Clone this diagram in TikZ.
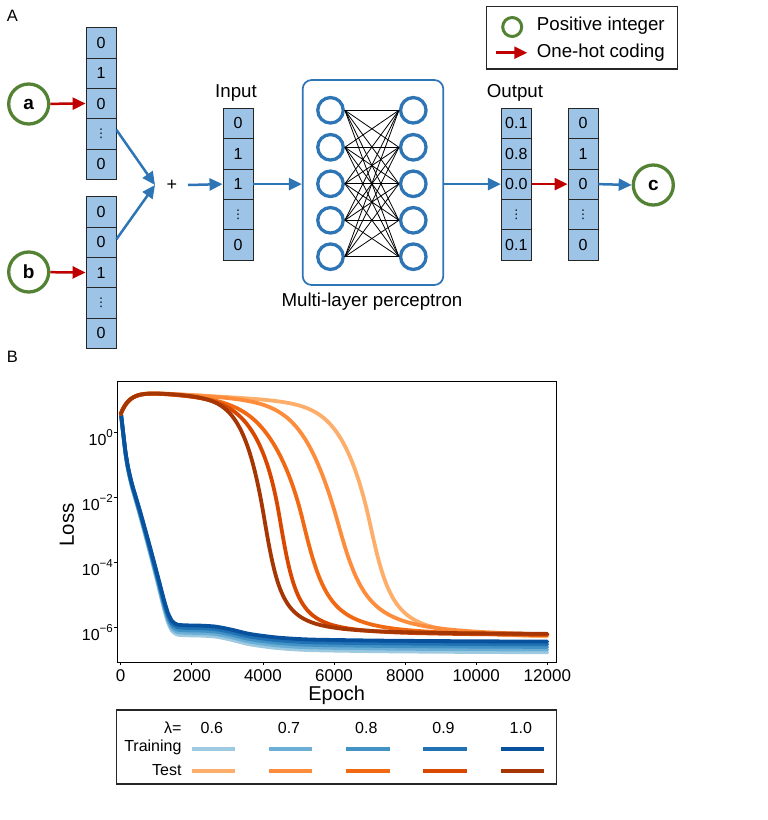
\documentclass[tikz,border=0pt]{standalone}
\usepackage{fontspec}
\setmainfont{Liberation Sans}
\newfontfamily\dejavu{DejaVu Sans}
\usetikzlibrary{arrows.meta}
\definecolor{cellblue}{HTML}{9DC3E6}
\definecolor{arrblue}{HTML}{2E75B6}
\definecolor{arrred}{HTML}{C00000}
\definecolor{ringgreen}{HTML}{548235}
\definecolor{trA}{HTML}{9ECAE1}
\definecolor{trB}{HTML}{6BAED6}
\definecolor{trC}{HTML}{4292C6}
\definecolor{trD}{HTML}{2171B5}
\definecolor{trE}{HTML}{08519C}
\definecolor{teA}{HTML}{FDAE6B}
\definecolor{teB}{HTML}{FD8D3C}
\definecolor{teC}{HTML}{F16913}
\definecolor{teD}{HTML}{D94801}
\definecolor{teE}{HTML}{A63603}
\newcommand\vd{{\dejavu\fontsize{12}{12}\selectfont ⋮}}
\newcommand\fs[1]{\fontsize{#1}{#1}\selectfont}
\tikzset{
  cell/.style={draw=black!85, line width=0.9pt, fill=cellblue, minimum width=30pt,
    minimum height=30.33pt, inner sep=0pt, font=\fs{16}},
  ring/.style={circle, draw=ringgreen, line width=3.3pt, minimum size=40pt, inner sep=0pt,
    font=\fs{19}\bfseries},
  neuron/.style={circle, draw=arrblue, line width=3.3pt, minimum size=25.5pt, inner sep=0pt},
  barrow/.style={draw=arrblue, line width=2.5pt, -{Triangle[length=13pt,width=12pt]}},
  rarrow/.style={draw=arrred, line width=2.5pt, -{Triangle[length=13pt,width=12pt]}},
  lbl/.style={font=\fs{18.7}, inner sep=0pt},
  tick/.style={font=\fs{17}, inner sep=0pt},
  leg/.style={font=\fs{16}, inner sep=0pt},
  curve/.style={line width=3.8pt, line join=round, line cap=round},
  declare function={
    ytop(\e)=391+23*exp(-min(\e/250,9))+0.002*\e;
    ash(\x)=ln(\x+sqrt(\x*\x+1));
    zlo(\d,\a,\A,\b)=min(\d,0)/\a-(\A/\b-1/\a)*250*(1-exp(max(min(\d,0)/250,-9)));
    zz(\e,\c,\a,\A,\b)=max(-9,min(9,zlo(\e-\c,\a,\A,\b)+\A*ash(max(\e-\c,0)/\b)));
    sg(\z)=1/(1+exp(-\z));
    tc(\e,\c,\a,\A,\b,\f)=ytop(\e)+(\f-ytop(\e))*sg(zz(\e,\c,\a,\A,\b));
  }
}
\begin{document}
\begin{tikzpicture}[x=1pt,y=-1pt]
\useasboundingbox (0,0) rectangle (768,820);
% ---------------- Panel A ----------------
\node[font=\fs{16.5}, inner sep=0pt] (lA) at (12.5,16) {A};
% vectors
\foreach \v [count=\i] in {0,1,0,\vd,0}
  \node[cell] (a\i) at (101,{27.7+30.33*\i-15.17}) {\v};
\foreach \v [count=\i] in {0,0,1,\vd,0}
  \node[cell] (b\i) at (101,{196.7+30.33*\i-15.17}) {\v};
\foreach \v [count=\i] in {0,1,1,\vd,0}
  \node[cell] (in\i) at (238,{108.3+30.33*\i-15.17}) {\v};
\foreach \v [count=\i] in {0.1,0.8,0.0,\vd,0.1}
  \node[cell] (out\i) at (516.3,{108.3+30.33*\i-15.17}) {\v};
\foreach \v [count=\i] in {0,1,0,\vd,0}
  \node[cell] (oh\i) at (583,{108.3+30.33*\i-15.17}) {\v};
% circles
\node[ring] (ca) at (28.7,104) {a};
\node[ring] (cb) at (28.7,272) {b};
\node[ring] (cc) at (653.3,185) {c};
% labels
\node[lbl] (linput) at (236,93) {Input};
\node[lbl] (loutput) at (515,93) {Output};
\node[font=\fs{18}, inner sep=0pt] (plus) at (172,185) {+};
\coordinate (m) at (155,185);
% MLP
\node[draw=arrblue, line width=1.7pt, rounded corners=9pt, minimum width=140.6pt,
  minimum height=205pt, inner sep=0pt] (mlp) at (373,182.5) {};
\foreach \y [count=\i] in {110.3,147.3,183.8,220.3,256.7} {
  \node[neuron] (nl\i) at (330.5,\y) {};
  \node[neuron] (nr\i) at (413.3,\y) {};
}
\foreach \i in {1,...,5} \foreach \j in {1,...,5}
  \draw[line width=0.8pt] (nl\i.east) -- (nr\j.west);
\node[lbl] (lmlp) at (372,302) {Multi-layer perceptron};
% arrows
\draw[rarrow] (ca) -- (a3.west);
\draw[rarrow] (cb) -- (b3.west);
\draw[barrow] ([yshift=4pt]a4.east) -- (m);
\draw[barrow] ([yshift=3pt]b2.east) -- (m);
\draw[barrow] ([xshift=16pt]plus.center) -- (in3.west);
\draw[barrow] (in3.east) -- (mlp.west |- in3.east);
\draw[barrow] (mlp.east |- out3.west) -- (out3.west);
\draw[rarrow] (out3.east) -- (oh3.west);
\draw[barrow] (oh3.east) -- (cc.west);
% legend A
\node[draw=black!85, line width=1.5pt, minimum width=191pt, minimum height=62.3pt, inner sep=0pt]
  (legA) at (582.2,37.85) {};
\node[circle, draw=ringgreen, line width=3pt, minimum size=19pt, inner sep=0pt] (lgc) at (512.2,27) {};
\coordinate (lra) at (496,52.7);
\coordinate (lrb) at (527.3,52.7);
\draw[rarrow] (lra) -- (lrb);
\node[lbl, anchor=west] (lpi) at (536.7,26) {Positive integer};
\node[lbl, anchor=west] (loh) at (536.7,53) {One-hot coding};
% ---------------- Panel B ----------------
\node[font=\fs{16.5}, inner sep=0pt] (lB) at (12.5,357) {B};
% training curves
\foreach \col/\k in {trA/1.047, trB/1.035, trC/1.0235, trD/1.012, trE/1}
  \draw[\col, curve, shift={(121,414)}, yscale=\k, shift={(-121,-414)}]
    plot[smooth, tension=0.4] coordinates {(121,414) (123.2,433) (125.5,452) (128,467)
      (132,484) (140,511) (150,547) (158,577) (164,600) (168,613) (172,621) (177,624.5)
      (185,625.3) (200,625.6) (215,626.5) (230,629.3) (250,634) (277,637.5) (310,639.5)
      (380,640.6) (460,641.2) (547.3,641.6)};
% test curves
\foreach \col/\c/\a/\A/\b/\f in {teA/7000/530/1.6/580/638.5, teB/6090/580/1.5/700/637.5,
    teC/5110/650/1.6/650/636.5, teD/4470/550/1.6/450/635.5, teE/4030/411/1.6/450/634.5}
  \draw[\col, curve] plot[domain=0:12000, samples=301, variable=\e]
    ({120.7+0.03555*\e},{tc(\e,\c,\a,\A,\b,\f)});
% frame
\draw[line width=1.3pt] (117.3,381.7) rectangle (556.7,662.3);
\foreach \e in {0,2000,4000,6000,8000,10000,12000} {
  \draw[line width=0.8pt] ({120.7+0.03555*\e},662.3) -- ++(0,3);
  \node[tick, anchor=base] (xt\e) at ({120.7+0.03555*\e},681) {\e};
}
\foreach \p/\t in {0/0,2/−2,4/−4,6/−6} {
  \draw[line width=0.8pt] (117.3,{432+32.5*\p}) -- ++(-3,0);
  \node[font=\fs{16}, inner sep=0pt, anchor=base east] (yt\p) at (113,{432+32.5*\p+13.5})
    {10\raisebox{8pt}{\fs{11.5}\t}};
}
\node[font=\fs{20.5}, inner sep=0pt, rotate=90] (lloss) at (67,525) {Loss};
\node[font=\fs{20}, inner sep=0pt, anchor=base] (lepoch) at (336.7,700.5) {Epoch};
% legend B
\node[draw=black!85, line width=1.2pt, minimum width=440pt, minimum height=74pt, inner sep=0pt]
  (legB) at (336.7,747) {};
\node[leg, anchor=east] (llam) at (181.7,727.7) {λ=};
\node[leg, anchor=east] (ltr) at (181.7,747.5) {Training};
\node[leg, anchor=east] (lte) at (181.7,770.5) {Test};
\foreach \v/\x/\ca/\cb [count=\i] in {0.6/213.3/trA/teA, 0.7/290.5/trB/teB, 0.8/367.8/trC/teC,
    0.9/445/trD/teD, 1.0/522.3/trE/teE} {
  \node[leg] (lv\i) at (\x-1.5,727.7) {\v};
  \coordinate (ta\i) at (\x-21.7,748.7);
  \coordinate (tb\i) at (\x+21.7,748.7);
  \coordinate (sa\i) at (\x-21.7,771.3);
  \coordinate (sb\i) at (\x+21.7,771.3);
  \draw[\ca, line width=4pt] (ta\i) -- (tb\i);
  \draw[\cb, line width=4pt] (sa\i) -- (sb\i);
}
\end{tikzpicture}
\end{document}
